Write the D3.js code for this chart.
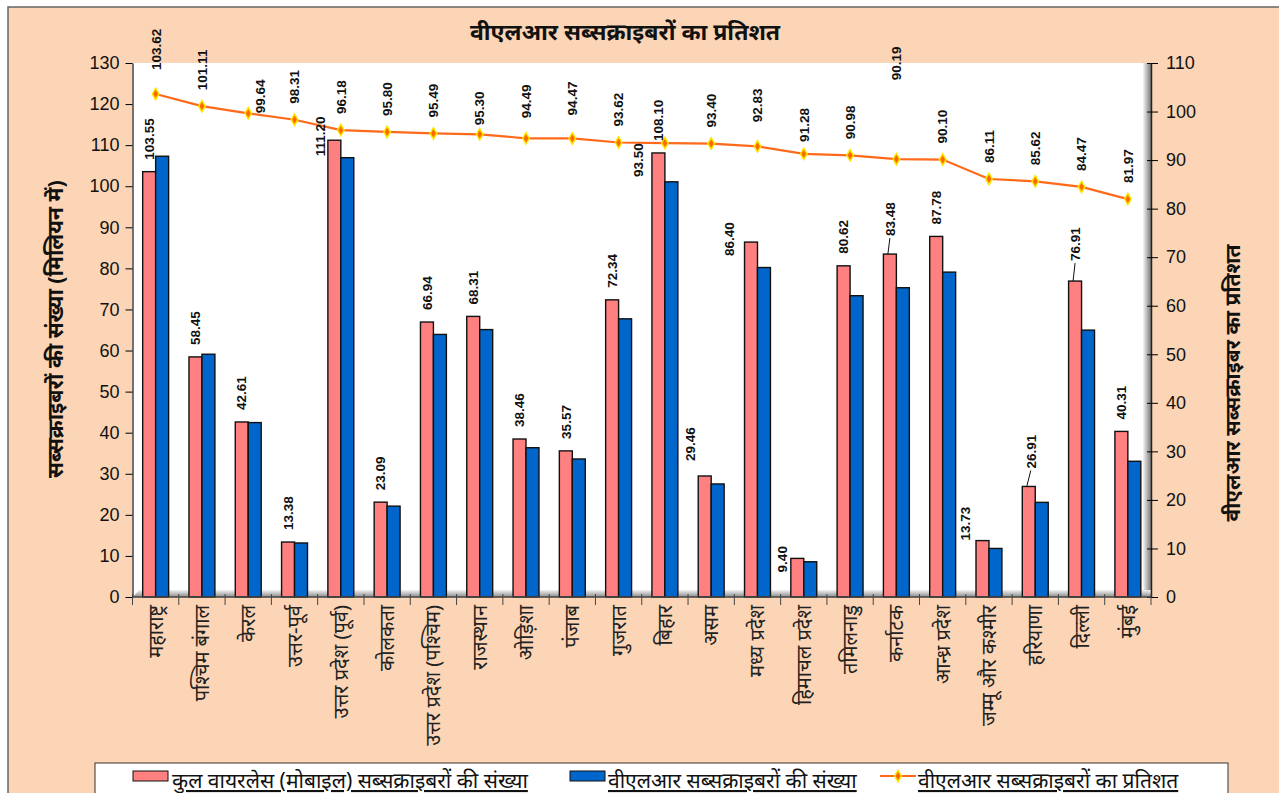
<!DOCTYPE html>
<html>
<head>
<meta charset="utf-8">
<script src="https://cdn.jsdelivr.net/npm/d3@7"></script>
<style>
	body { margin: 0; background: #fff; }
	svg text { font-family: "Liberation Sans", Arial, sans-serif; }
	.hi { font-family: "Noto Sans", "Noto Sans Devanagari", "Lohit Devanagari", sans-serif; }
</style>
</head>
<body>
<div id="chart"></div>
<script>
// data
var states = ["महाराष्ट्र", "पश्चिम बंगाल", "केरल", "उत्तर-पूर्व", "उत्तर प्रदेश (पूर्व)", "कोलकता",
	"उत्तर प्रदेश (पश्चिम)", "राजस्थान", "ओड़िशा", "पंजाब", "गुजरात", "बिहार", "असम", "मध्य प्रदेश",
	"हिमाचल प्रदेश", "तमिलनाडु", "कर्नाटक", "आन्ध्र प्रदेश", "जम्मू और कश्मीर", "हरियाणा", "दिल्ली", "मुंबई"];
var totalSubs = [103.55, 58.45, 42.61, 13.38, 111.20, 23.09, 66.94, 68.31, 38.46, 35.57, 72.34,
	108.10, 29.46, 86.40, 9.40, 80.62, 83.48, 87.78, 13.73, 26.91, 76.91, 40.31];
var vlrSubs = [107.30, 59.10, 42.46, 13.15, 106.95, 22.12, 63.92, 65.10, 36.34, 33.60, 67.72,
	101.07, 27.52, 80.21, 8.58, 73.35, 75.29, 79.09, 11.82, 23.04, 64.97, 33.04];
var vlrPct = [103.62, 101.11, 99.64, 98.31, 96.18, 95.80, 95.49, 95.30, 94.49, 94.47, 93.62,
	93.50, 93.40, 92.83, 91.28, 90.98, 90.19, 90.10, 86.11, 85.62, 84.47, 81.97];
var leftTicks = [0, 10, 20, 30, 40, 50, 60, 70, 80, 90, 100, 110, 120, 130];
var rightTicks = [0, 10, 20, 30, 40, 50, 60, 70, 80, 90, 100, 110];

var titleText = "वीएलआर सब्सक्राइबरों का प्रतिशत";
var leftTitle = "सब्सक्राइबरों की संख्या (मिलियन में)";
var rightTitle = "वीएलआर सब्सक्राइबर का प्रतिशत";
var legendNames = ["कुल वायरलेस (मोबाइल) सब्सक्राइबरों की संख्या", "वीएलआर सब्सक्राइबरों की संख्या", "वीएलआर सब्सक्राइबरों का प्रतिशत"];

// hand placed labels (offsets in px, as in the original sheet)
var barLabelNudge = {4: {dx: -14, dy: 28}, 12: {dx: -14, dy: -3}, 13: {dx: -22, dy: 26}, 14: {dx: -15, dy: 26},
	16: {dx: 0, dy: -6, lead: true}, 18: {dx: -17, dy: 12}, 19: {dx: 2, dy: -6, lead: true}, 20: {dx: 0, dy: -8, lead: true}};
var pctLabelNudge = {0: {dx: 1, dy: -8}, 2: {dx: 12, dy: 16}, 7: {dx: 0, dy: 7}, 8: {dx: 0, dy: -4}, 9: {dx: 0, dy: -7},
	11: {dx: -27, dy: 50}, 13: {dx: 0, dy: -8}, 14: {dx: 0, dy: 4}, 16: {dx: 0, dy: -63}};

var width = 1279, height = 793;
var plot = {left: 132.5, right: 1151, top: 63, bottom: 597};

var svg = d3.select("#chart").append("svg")
	.attr("width", width)
	.attr("height", height);

// background + outer frame
svg.append("rect")
	.attr("x", 8).attr("y", 7)
	.attr("width", width + 10).attr("height", height + 10)
	.attr("fill", "#fbd5b5")
	.attr("stroke", "#666")
	.attr("stroke-width", 1.5);

var defs = svg.append("defs");
var gFloor = defs.append("linearGradient").attr("id", "floor").attr("x1", 0).attr("y1", 0).attr("x2", 0).attr("y2", 1);
gFloor.append("stop").attr("offset", "0%").attr("stop-color", "#f2f2f2");
gFloor.append("stop").attr("offset", "100%").attr("stop-color", "#8c8c8c");
var gWall = defs.append("linearGradient").attr("id", "wall").attr("x1", 0).attr("y1", 0).attr("x2", 1).attr("y2", 0);
gWall.append("stop").attr("offset", "0%").attr("stop-color", "#f4f4f4");
gWall.append("stop").attr("offset", "100%").attr("stop-color", "#7a7a7a");

// plot area
svg.append("rect")
	.attr("x", plot.left).attr("y", plot.top)
	.attr("width", plot.right - plot.left).attr("height", plot.bottom - plot.top)
	.attr("fill", "#fff");
svg.append("rect")
	.attr("x", plot.right - 8).attr("y", plot.top)
	.attr("width", 8).attr("height", plot.bottom - plot.top)
	.attr("fill", "url(#wall)");
svg.append("path")
	.attr("d", "M" + plot.left + "," + plot.bottom + "L" + (plot.left + 7) + "," + (plot.bottom - 7) +
		"L" + plot.right + "," + (plot.bottom - 7) + "L" + plot.right + "," + plot.bottom + "Z")
	.attr("fill", "url(#floor)");

// scales
var x = d3.scaleBand().domain(d3.range(states.length)).range([plot.left, plot.right]);
var xs = d3.scaleBand().domain([0, 1]).range([x.bandwidth() * 0.22, x.bandwidth() * 0.78]);
var yL = d3.scaleLinear().domain([0, 130]).range([plot.bottom, plot.top]);
var yR = d3.scaleLinear().domain([0, 110]).range([plot.bottom, plot.top]);

// bars
var groups = svg.append("g").selectAll("g")
	.data(states)
	.enter().append("g")
	.attr("transform", function(d, i) { return "translate(" + x(i) + ",0)"; });

groups.append("rect")
	.attr("x", xs(0))
	.attr("y", function(d, i) { return yL(totalSubs[i]); })
	.attr("width", xs.bandwidth())
	.attr("height", function(d, i) { return yL(0) - yL(totalSubs[i]); })
	.attr("fill", "#ff8080")
	.attr("stroke", "#111")
	.attr("stroke-width", 1.4);

groups.append("rect")
	.attr("x", xs(1))
	.attr("y", function(d, i) { return yL(vlrSubs[i]); })
	.attr("width", xs.bandwidth())
	.attr("height", function(d, i) { return yL(0) - yL(vlrSubs[i]); })
	.attr("fill", "#0066cc")
	.attr("stroke", "#111")
	.attr("stroke-width", 1.4);

// left axis
var axL = svg.append("g")
	.attr("transform", "translate(" + plot.left + ",0)")
	.call(d3.axisLeft(yL).tickValues(leftTicks).tickSize(7).tickPadding(6).tickSizeOuter(0));
axL.selectAll("text").attr("font-size", "18px").attr("fill", "#111");
axL.select(".domain").attr("stroke", "#444").attr("stroke-width", 1.5);

// right axis
var axR = svg.append("g")
	.attr("transform", "translate(" + plot.right + ",0)")
	.call(d3.axisRight(yR).tickValues(rightTicks).tickSize(7).tickPadding(8).tickSizeOuter(0));
axR.selectAll("text").attr("font-size", "18px").attr("fill", "#111");
axR.selectAll(".tick line").attr("x1", -4);
axR.select(".domain").attr("stroke", "#222").attr("stroke-width", 1.5);

// bottom axis, ticks between the categories
svg.append("line")
	.attr("x1", plot.left).attr("x2", plot.right)
	.attr("y1", plot.bottom).attr("y2", plot.bottom)
	.attr("stroke", "#444").attr("stroke-width", 1.5);
svg.append("g").selectAll("line")
	.data(d3.range(states.length + 1))
	.enter().append("line")
	.attr("x1", function(d) { return plot.left + d * x.step(); })
	.attr("x2", function(d) { return plot.left + d * x.step(); })
	.attr("y1", plot.bottom - 3).attr("y2", plot.bottom + 8)
	.attr("stroke", "#444");

var axB = svg.append("g")
	.attr("transform", "translate(0," + plot.bottom + ")")
	.call(d3.axisBottom(x).tickSize(0).tickFormat(function(i) { return states[i]; }));
axB.select(".domain").remove();
axB.selectAll("text")
	.attr("class", "hi")
	.attr("font-size", "20px")
	.attr("fill", "#222")
	.attr("text-anchor", "end")
	.attr("transform", "rotate(-90)")
	.attr("x", -8)
	.attr("y", 0)
	.attr("dy", "0.35em");

// percentage line
var line = d3.line()
	.x(function(d, i) { return x(i) + x.bandwidth() / 2; })
	.y(function(d) { return yR(d); });

svg.append("path")
	.datum(vlrPct)
	.attr("fill", "none")
	.attr("stroke", "#ff6a1a")
	.attr("stroke-width", 2.2)
	.attr("d", line);

var diamond = d3.symbol().type(d3.symbolDiamond).size(38);
svg.append("g").selectAll("path")
	.data(vlrPct)
	.enter().append("path")
	.attr("d", diamond)
	.attr("transform", function(d, i) { return "translate(" + (x(i) + x.bandwidth() / 2) + "," + yR(d) + ")"; })
	.attr("fill", "#ff6a00")
	.attr("stroke", "#ffe600")
	.attr("stroke-width", 1.5);

// value labels on the red bars
function nudge(tab, i) { return tab[i] || {dx: 0, dy: 0}; }

var barLab = svg.append("g");
totalSubs.forEach(function(v, i) {
	var n = nudge(barLabelNudge, i);
	var cx = x(i) + xs(0) + xs.bandwidth() / 2;
	var lx = cx + n.dx, ly = yL(v) - 12 + n.dy;
	barLab.append("text")
		.attr("transform", "translate(" + lx + "," + ly + ") rotate(-90)")
		.attr("dy", "0.35em")
		.attr("font-size", "13.5px")
		.attr("font-weight", "bold")
		.attr("fill", "#111")
		.text(v.toFixed(2));
	if (n.lead) {
		barLab.append("line")
			.attr("x1", lx).attr("y1", ly + 2)
			.attr("x2", cx - 2).attr("y2", yL(v))
			.attr("stroke", "#111");
	}
});

// value labels on the line
var pctLab = svg.append("g");
vlrPct.forEach(function(v, i) {
	var n = nudge(pctLabelNudge, i);
	var lx = x(i) + x.bandwidth() / 2 + n.dx, ly = yR(v) - 16 + n.dy;
	pctLab.append("text")
		.attr("transform", "translate(" + lx + "," + ly + ") rotate(-90)")
		.attr("dy", "0.35em")
		.attr("font-size", "13.5px")
		.attr("font-weight", "bold")
		.attr("fill", "#111")
		.text(v.toFixed(2));
});

// titles
svg.append("text")
	.attr("class", "hi")
	.attr("x", 625).attr("y", 40)
	.attr("text-anchor", "middle")
	.attr("font-size", "23px")
	.attr("font-weight", "bold")
	.attr("fill", "#111")
	.text(titleText);

svg.append("text")
	.attr("class", "hi")
	.attr("transform", "translate(55,329) rotate(-90)")
	.attr("text-anchor", "middle")
	.attr("dy", "0.35em")
	.attr("font-size", "21.5px")
	.attr("font-weight", "bold")
	.attr("fill", "#111")
	.text(leftTitle);

svg.append("text")
	.attr("class", "hi")
	.attr("transform", "translate(1233,383) rotate(-90)")
	.attr("text-anchor", "middle")
	.attr("dy", "0.35em")
	.attr("font-size", "21px")
	.attr("font-weight", "bold")
	.attr("fill", "#111")
	.text(rightTitle);

// legend
var legend = svg.append("g");
legend.append("rect")
	.attr("x", 95).attr("y", 763)
	.attr("width", 1133).attr("height", 40)
	.attr("fill", "#fff")
	.attr("stroke", "#333");

legend.append("rect").attr("x", 133).attr("y", 771).attr("width", 35).attr("height", 10)
	.attr("fill", "#ff8080").attr("stroke", "#111");
legend.append("rect").attr("x", 570).attr("y", 771).attr("width", 35).attr("height", 10)
	.attr("fill", "#0066cc").attr("stroke", "#111");
legend.append("line").attr("x1", 880).attr("x2", 916).attr("y1", 776).attr("y2", 776)
	.attr("stroke", "#ff6a1a").attr("stroke-width", 2.2);
legend.append("path").attr("d", diamond).attr("transform", "translate(898,776)")
	.attr("fill", "#ff6a00").attr("stroke", "#ffe600").attr("stroke-width", 1.5);

var legX = [172, 608, 918];
legendNames.forEach(function(name, i) {
	legend.append("text")
		.attr("class", "hi")
		.attr("x", legX[i]).attr("y", 788)
		.attr("font-size", "21px")
		.attr("fill", "#111")
		.attr("text-decoration", "underline")
		.text(name);
});
</script>
</body>
</html>
